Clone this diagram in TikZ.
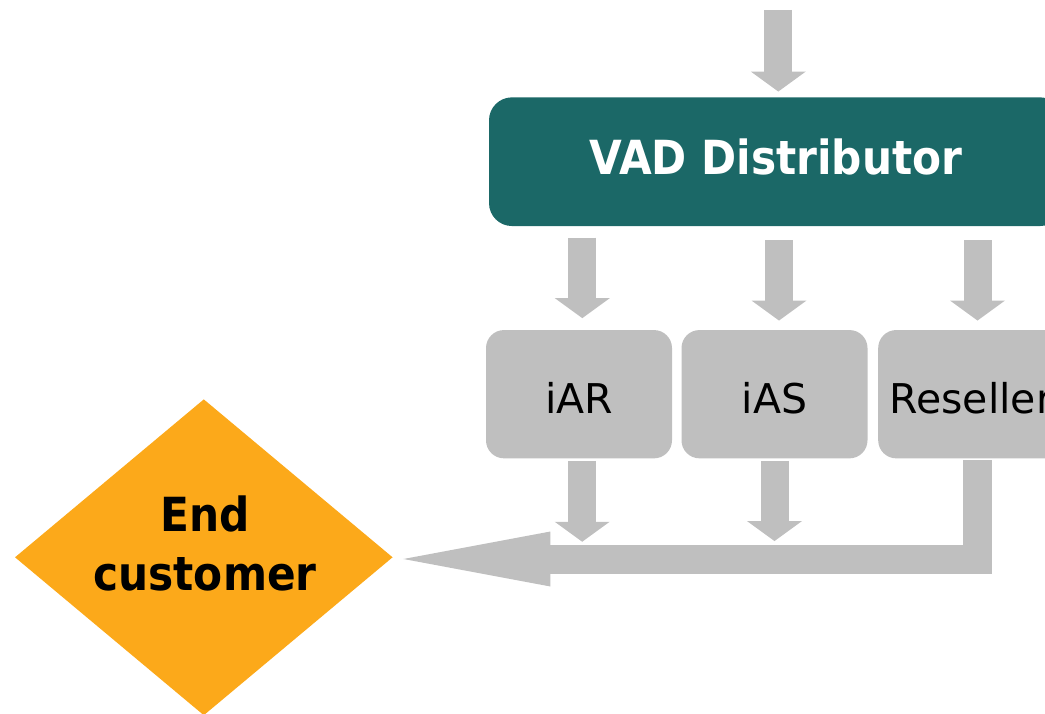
\documentclass[tikz,border=0pt]{standalone}
\usepackage{fontspec}
\setmainfont{DejaVu Sans}
\newfontfamily\condfont{DejaVu Sans Condensed}
\usetikzlibrary{arrows.meta,shapes.geometric,calc}
\definecolor{vadteal}{RGB}{27,104,103}
\definecolor{boxgray}{RGB}{191,191,191}
\definecolor{ecorange}{RGB}{252,169,26}
\begin{document}
\begin{tikzpicture}[x=1pt,y=-1pt,
  vadbox/.style={fill=vadteal, rounded corners=23pt, minimum width=574pt, minimum height=128.7pt,
    inner sep=0pt, text=white, font=\condfont\bfseries\fontsize{47}{56}\selectfont,
    text height=26.6pt, text depth=0pt},
  graybox/.style={fill=boxgray, rounded corners=18pt, minimum width=186pt, minimum height=128.3pt,
    inner sep=0pt, text=black, font=\fontsize{41}{48}\selectfont,
    text height=38.6pt, text depth=0pt},
  ecshape/.style={diamond, fill=ecorange, minimum width=377.7pt, minimum height=316pt, inner sep=0pt},
  ectextstyle/.style={align=center, inner sep=0pt, font=\condfont\bfseries\fontsize{47}{59}\selectfont},
  blockarrow/.style={draw=boxgray, line width=28pt,
    -{Triangle[width=55pt,length=20pt,line width=0pt]}},
  bigarrow/.style={draw=boxgray, line width=29pt, line join=miter,
    -{Triangle[width=55pt,length=147pt,line width=0pt]}}
]
\useasboundingbox (0,0) rectangle (1045,714);
\clip (0,0) rectangle (1045,714);

\node[vadbox] (vad) at (776,161.7) {VAD Distributor};
\node[graybox] (iar) at (579,394.2) {iAR};
\node[graybox] (ias) at (774.5,394.2) {iAS};
\node[graybox] (res) at (971.2,394.2) {Reseller};
\node[ecshape] (ec) at (203.8,557.3) {};
\node[ectextstyle, anchor=base] (ect) at (205,590.7) {End\\customer};

\coordinate (topstart) at (778.3,10);
\draw[blockarrow] (topstart) -- ($(vad.north -| topstart)+(0,-5.6)$);

\draw[blockarrow] ($(vad.south -| iar.north)+(3.3,11.3)$) -- ($(iar.north)+(3.3,-11.7)$);
\draw[blockarrow] ($(vad.south -| ias.north)+(4.5,14)$) -- ($(ias.north)+(4.5,-9.3)$);
\draw[blockarrow] ($(vad.south -| res.north)+(6.3,14)$) -- ($(res.north)+(6.3,-9.3)$);

\draw[blockarrow] ($(iar.south)+(3.2,2.2)$) -- ($(iar.south)+(3.2,83.2)$);
\draw[blockarrow] ($(ias.south)+(0,2.2)$) -- ($(ias.south)+(0,82.5)$);

\draw[bigarrow] ($(res.south)+(6.3,1.7)$) |- ($(ec.east)+(10.6,1.7)$);
\end{tikzpicture}
\end{document}
